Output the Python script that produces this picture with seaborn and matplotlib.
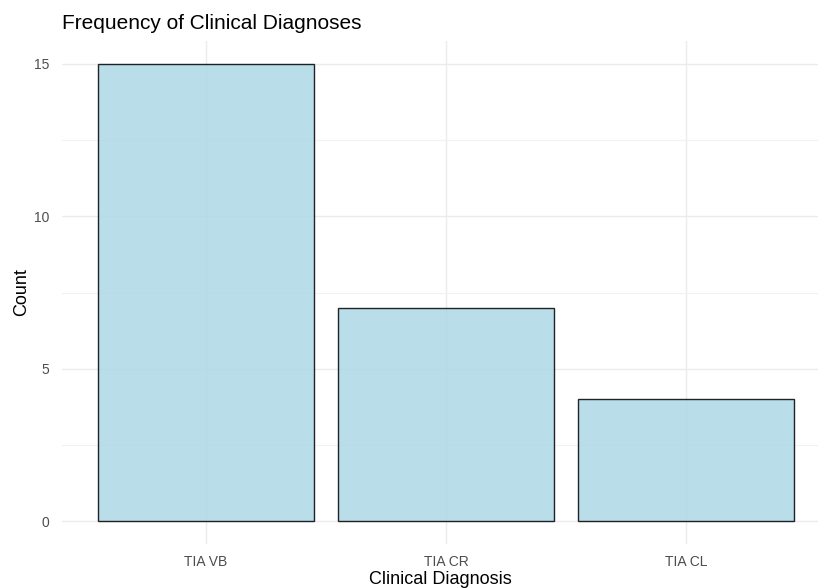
import pandas as pd
import seaborn as sns
import matplotlib.pyplot as plt
from matplotlib.ticker import MultipleLocator

# data
diagnoses = ['TIA VB', 'TIA CR', 'TIA CL']
counts = [15, 7, 4]

df = pd.DataFrame({'diagnosis': diagnoses, 'count': counts})

sns.set_theme(style='white')
plt.rcParams['font.family'] = ['Liberation Sans', 'DejaVu Sans']

fig = plt.figure(figsize=(8.18, 5.88), dpi=100)
ax = fig.add_axes([0.0758, 0.0748, 0.9242, 0.8554])

sns.barplot(data=df, x='diagnosis', y='count', order=diagnoses, color='lightblue',
            saturation=1.0, alpha=0.85, edgecolor='black', linewidth=1.0, width=0.9, ax=ax)

ax.set_xlim(-0.6, 2.55)
ax.set_ylim(-0.75, 15.75)
ax.yaxis.set_major_locator(MultipleLocator(5))
ax.yaxis.set_minor_locator(MultipleLocator(2.5))

# ggplot-ish grid
ax.set_axisbelow(True)
ax.grid(True, which='major', color='#EBEBEB', linewidth=1.0)
ax.grid(True, which='minor', axis='y', color='#F2F2F2', linewidth=0.8)
for s in ax.spines.values():
    s.set_visible(False)

ax.tick_params(axis='both', which='both', length=0, labelsize=10, labelcolor='#4D4D4D')
ax.tick_params(axis='y', pad=9)
ax.tick_params(axis='x', pad=8)

ax.set_xlabel('Clinical Diagnosis', fontsize=13, color='black', labelpad=1)
ax.set_ylabel('Count', fontsize=13, color='black', labelpad=3)
ax.set_title('Frequency of Clinical Diagnoses', fontsize=15, color='black', loc='left', x=0.0, pad=9)

fig.savefig('out.png', dpi=100)
